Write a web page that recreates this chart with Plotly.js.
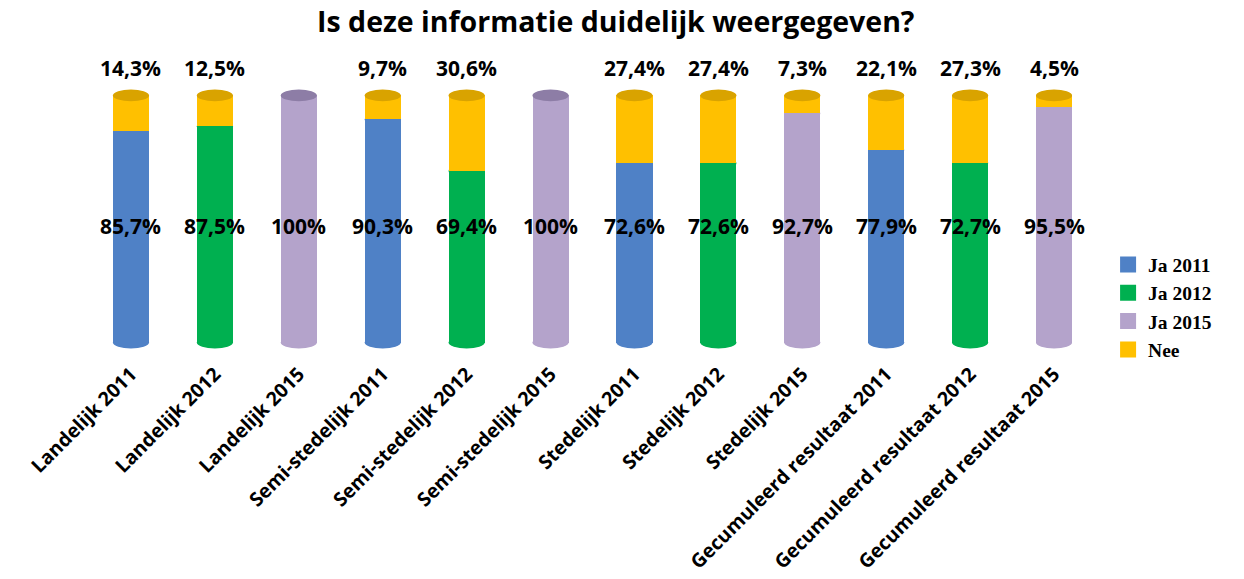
<!DOCTYPE html>
<html>
<head>
<meta charset="utf-8">
<script src="https://cdn.plot.ly/plotly-3.0.1.min.js"></script>
<style>html,body{margin:0;padding:0;background:#fff;}#chart{width:1244px;height:579px;}</style>
</head>
<body>
<div id="chart"></div>
<script>
const categories = ["Landelijk 2011","Landelijk 2012","Landelijk 2015","Semi-stedelijk 2011","Semi-stedelijk 2012","Semi-stedelijk 2015","Stedelijk 2011","Stedelijk 2012","Stedelijk 2015","Gecumuleerd resultaat 2011","Gecumuleerd resultaat 2012","Gecumuleerd resultaat 2015"];
const ja = [85.7, 87.5, 100, 90.3, 69.4, 100, 72.6, 72.6, 92.7, 77.9, 72.7, 95.5];
const nee = [14.3, 12.5, 0, 9.7, 30.6, 0, 27.4, 27.4, 7.3, 22.1, 27.3, 4.5];
const seriesNames = ["Ja 2011", "Ja 2012", "Ja 2015"];
const seriesColors = ["#4F81C6", "#00B050", "#B4A3CB"];
const seriesTopColors = ["#3A6399", "#008A3E", "#8D7DA6"];
const neeColor = "#FFC000";
const neeTopColor = "#D9A300";

const barWidth = 0.43;
function fmt(v){ return (Number.isInteger(v) ? String(v) : v.toFixed(1).replace('.', ',')) + '%'; }

const traces = [];
seriesNames.forEach((name, s) => {
  const xs = [], ys = [];
  categories.forEach((c, i) => { if (i % 3 === s) { xs.push(c); ys.push(ja[i]); } });
  traces.push({type:'bar', name:name, x:xs, y:ys, marker:{color:seriesColors[s]}, width:barWidth, showlegend:false});
});
traces.push({type:'bar', name:'Nee', x:categories, y:nee, marker:{color:neeColor}, width:barWidth, showlegend:false});
// legend entries (square swatches)
seriesNames.concat(['Nee']).forEach((name, k) => {
  traces.push({type:'scatter', mode:'markers', name:name, x:[null], y:[null],
    marker:{symbol:'square', size:16, color: k < 3 ? seriesColors[k] : neeColor}, showlegend:true});
});

const labelFont = {family:'Open Sans', size:21, color:'#000', weight:'bold'};
const annotations = [];
const shapes = [];
const eh = 2.4;
categories.forEach((c, i) => {
  annotations.push({x:c, y:47, text:fmt(ja[i]), showarrow:false, font:labelFont, xref:'x', yref:'y'});
  if (nee[i] > 0) {
    annotations.push({x:c, y:100, yshift:27, text:fmt(nee[i]), showarrow:false, font:labelFont, xref:'x', yref:'y'});
  }
  const s = i % 3;
  const total = ja[i] + nee[i];
  shapes.push({type:'circle', xref:'x', yref:'y', x0:i - barWidth/2, x1:i + barWidth/2, y0:-eh, y1:eh, fillcolor:seriesColors[s], line:{width:0}, layer:'below'});
  shapes.push({type:'circle', xref:'x', yref:'y', x0:i - barWidth/2, x1:i + barWidth/2, y0:total - eh, y1:total + eh,
    fillcolor: nee[i] > 0 ? neeTopColor : seriesTopColors[s], line:{width:0}, layer:'above'});
  if (nee[i] > 0) {
    shapes.push({type:'circle', xref:'x', yref:'y', x0:i - barWidth/2, x1:i + barWidth/2, y0:ja[i] - eh, y1:ja[i] + eh,
      fillcolor: seriesColors[s], line:{width:0}, layer:'below'});
  }
});

const layout = {
  width:1244, height:579,
  margin:{l:89, r:148, t:88, b:229},
  paper_bgcolor:'#fff', plot_bgcolor:'rgba(0,0,0,0)',
  barmode:'stack',
  title:{text:'<b>Is deze informatie duidelijk weergegeven?</b>', x:0.495, xanchor:'center', y:0.962, yanchor:'middle', font:{family:'Open Sans', size:28.5, color:'#000'}},
  xaxis:{type:'category', categoryorder:'array', categoryarray:categories, tickangle:-45, tickfont:{family:'Open Sans', size:19.5, color:'#000', weight:'bold'}, showgrid:false, zeroline:false, showline:false, ticks:'', ticklabelstandoff:8, range:[-0.5, 11.5]},
  yaxis:{range:[-3,103], visible:false, showgrid:false, zeroline:false},
  legend:{x:1.012, xanchor:'left', y:0.4, yanchor:'top', traceorder:'normal', font:{family:'Liberation Serif', size:19.5, color:'#000', weight:'bold'}, itemwidth:30, tracegroupgap:0},
  annotations:annotations,
  shapes:shapes,
  showlegend:true
};

Plotly.newPlot('chart', traces, layout, {displayModeBar:false, staticPlot:true});
</script>
</body>
</html>
